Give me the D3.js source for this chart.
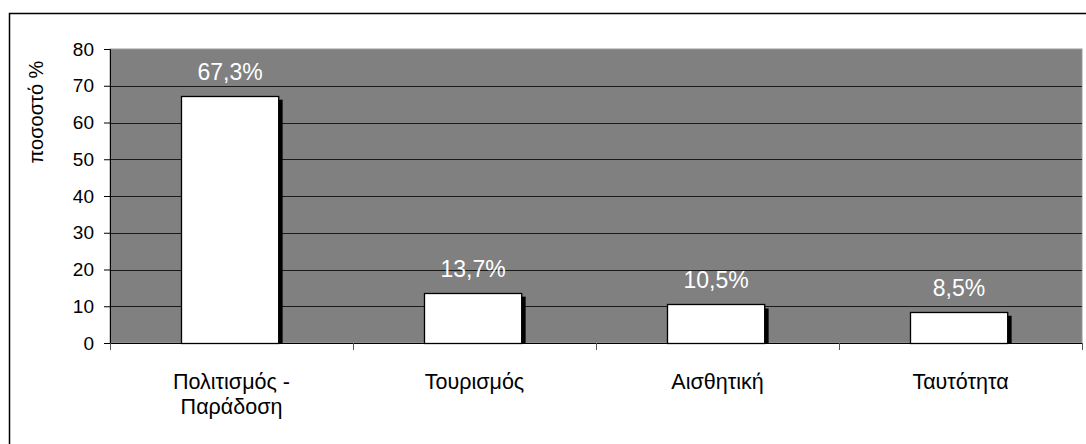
<!DOCTYPE html>
<html>
<head>
<meta charset="utf-8">
<script src="https://cdn.jsdelivr.net/npm/d3@7"></script>
<style>
  body { margin: 0; background: #fff; }
  svg text { font-family: "Liberation Sans", Arial, sans-serif; }
</style>
</head>
<body>
<div id="chart"></div>
<script>
'use strict';

var categories = [["Πολιτισμός -", "Παράδοση"], ["Τουρισμός"], ["Αισθητική"], ["Ταυτότητα"]];
var values = [67.3, 13.7, 10.5, 8.5];
var valueLabels = ["67,3%", "13,7%", "10,5%", "8,5%"];
var yTicks = [0, 10, 20, 30, 40, 50, 60, 70, 80];
var yTitle = "ποσοστό %";

var myChart = {};
myChart.width = 1086;
myChart.height = 444;
myChart.margin = {left: 110, right: 4, top: 49, bottom: 101};

myChart.run = function(){
    var m = myChart.margin;
    var svg = d3.select("#chart").append("svg")
        .attr("width", myChart.width)
        .attr("height", myChart.height);

    // outer frame (right/bottom run off the page)
    svg.append("rect")
        .attr("x", 9.5).attr("y", 13.5)
        .attr("width", 1100).attr("height", 500)
        .attr("fill", "#fff").attr("stroke", "#000").attr("stroke-width", 1.5);

    var x = d3.scaleBand()
        .domain(d3.range(values.length))
        .range([m.left, myChart.width - m.right])
        .paddingInner(0.6).paddingOuter(0.3).align(0.49);
    var xb = d3.scaleBand()
        .domain(d3.range(values.length))
        .range([m.left, myChart.width - m.right]);
    var y = d3.scaleLinear()
        .domain([0, 80])
        .range([myChart.height - m.bottom, m.top]);

    // plot background
    svg.append("rect")
        .attr("x", m.left).attr("y", m.top)
        .attr("width", myChart.width - m.right - m.left)
        .attr("height", y(0) - m.top)
        .attr("fill", "#808080")
        .attr("stroke", "#9a9a9a").attr("stroke-width", 1);

    // gridlines
    svg.append("g").selectAll("line")
        .data(yTicks.filter(function(d){ return d > 0 && d < 80; }))
        .enter().append("line")
        .attr("x1", m.left).attr("x2", myChart.width - m.right)
        .attr("y1", function(d){ return Math.round(y(d)) + 0.5; })
        .attr("y2", function(d){ return Math.round(y(d)) + 0.5; })
        .attr("stroke", "#1a1a1a").attr("stroke-width", 1);

    // shadows
    svg.append("g").selectAll("rect")
        .data(values).enter().append("rect")
        .attr("x", function(d, i){ return x(i) + 4; })
        .attr("y", function(d){ return y(d) + 4; })
        .attr("width", x.bandwidth())
        .attr("height", function(d){ return y(0) - y(d) - 4; })
        .attr("fill", "#000");

    // bars
    svg.append("g").selectAll("rect")
        .data(values).enter().append("rect")
        .attr("x", function(d, i){ return Math.round(x(i)) + 0.5; })
        .attr("y", function(d){ return Math.round(y(d)) + 0.5; })
        .attr("width", x.bandwidth())
        .attr("height", function(d){ return y(0) - Math.round(y(d)); })
        .attr("fill", "#fff").attr("stroke", "#000").attr("stroke-width", 1.3);

    // value labels
    svg.append("g").selectAll("text")
        .data(values).enter().append("text")
        .attr("x", function(d, i){ return x(i) + x.bandwidth() / 2; })
        .attr("y", function(d){ return y(d) - 16; })
        .attr("text-anchor", "middle")
        .attr("fill", "#fff")
        .style("font-size", "23px")
        .text(function(d, i){ return valueLabels[i]; });

    // y axis
    var yAxis = svg.append("g")
        .attr("transform", "translate(" + m.left + ",0)")
        .call(d3.axisLeft(y).tickValues(yTicks).tickSize(6).tickPadding(10));
    yAxis.select(".domain").attr("stroke", "#000");
    yAxis.selectAll("text").style("font-size", "19px").attr("fill", "#000")
        .style("font-family", "Liberation Sans, Arial, sans-serif");

    // x axis with ticks at category boundaries
    var xAxisG = svg.append("g");
    xAxisG.append("line")
        .attr("x1", m.left).attr("x2", myChart.width - m.right)
        .attr("y1", y(0) + 0.5).attr("y2", y(0) + 0.5)
        .attr("stroke", "#000");
    xAxisG.selectAll(".tk")
        .data(d3.range(values.length + 1)).enter().append("line")
        .attr("x1", function(i){ return Math.round(m.left + i * xb.bandwidth()) + 0.5; })
        .attr("x2", function(i){ return Math.round(m.left + i * xb.bandwidth()) + 0.5; })
        .attr("y1", y(0)).attr("y2", y(0) + 7)
        .attr("stroke", "#555");

    // category labels
    var cat = svg.append("g").selectAll("text")
        .data(categories).enter().append("text")
        .attr("x", function(d, i){ return xb(i) + xb.bandwidth() / 2; })
        .attr("y", 389)
        .attr("text-anchor", "middle")
        .style("font-size", "21.5px")
        .attr("fill", "#000");
    cat.selectAll("tspan")
        .data(function(d){ return d; }).enter().append("tspan")
        .attr("x", function(){ return this.parentNode.getAttribute("x"); })
        .attr("dy", function(d, j){ return j === 0 ? 0 : 25; })
        .text(function(d){ return d; });

    // y title
    svg.append("text")
        .attr("transform", "translate(43,112) rotate(-90)")
        .attr("text-anchor", "middle")
        .style("font-size", "20px")
        .attr("fill", "#000")
        .text(yTitle);
};

window.onload = myChart.run;
</script>
</body>
</html>
